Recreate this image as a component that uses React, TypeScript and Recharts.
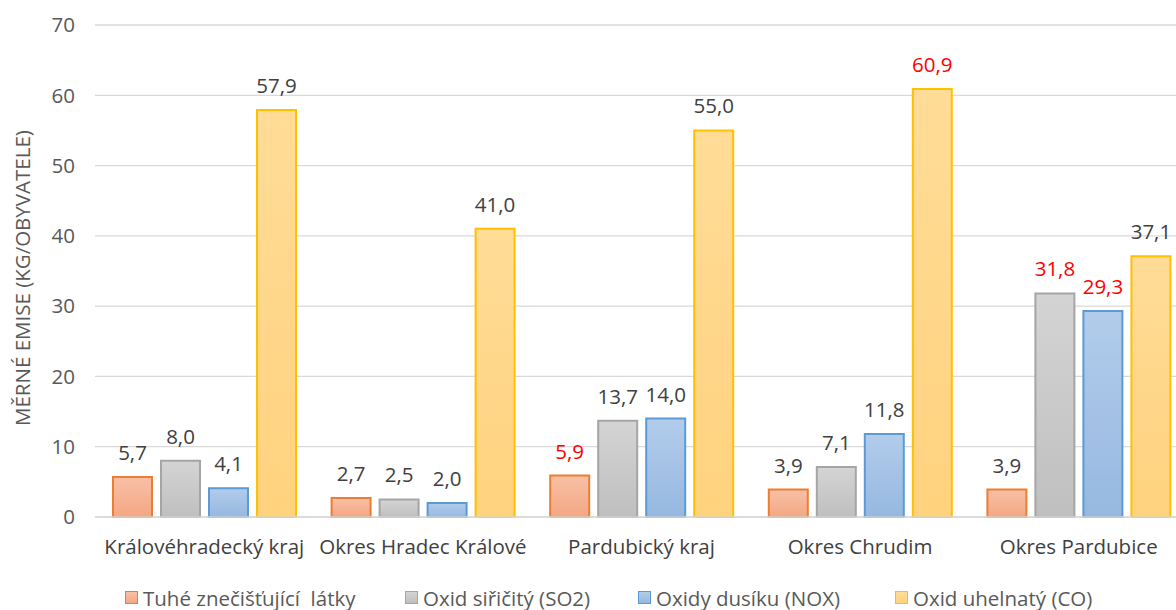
import React from 'react';
import {
  BarChart,
  Bar,
  XAxis,
  YAxis,
  CartesianGrid,
  Legend,
} from 'recharts';

const categories = [
  'Královéhradecký kraj',
  'Okres Hradec Králové',
  'Pardubický kraj',
  'Okres Chrudim',
  'Okres Pardubice',
];
const tuhe = [5.7, 2.7, 5.9, 3.9, 3.9];
const so2 = [8.0, 2.5, 13.7, 7.1, 31.8];
const nox = [4.1, 2.0, 14.0, 11.8, 29.3];
const co = [57.9, 41.0, 55.0, 60.9, 37.1];
const yTicks = [0, 10, 20, 30, 40, 50, 60, 70];

// values printed in red in the original: [series key, category]
const highlighted: Array<[string, string]> = [
  ['tuhe', 'Pardubický kraj'],
  ['co', 'Okres Chrudim'],
  ['so2', 'Okres Pardubice'],
  ['nox', 'Okres Pardubice'],
];

const data = categories.map((name, i) => ({
  name,
  tuhe: tuhe[i],
  so2: so2[i],
  nox: nox[i],
  co: co[i],
}));

const SERIES = [
  { key: 'tuhe', name: 'Tuhé znečišťující  látky', stroke: '#ED7D31', top: '#f8c0a6', bottom: '#f4a783', width: 280 },
  { key: 'so2', name: 'Oxid siřičitý (SO2)', stroke: '#A5A5A5', top: '#d4d4d4', bottom: '#bfbfbf', width: 233 },
  { key: 'nox', name: 'Oxidy dusíku (NOX)', stroke: '#5B9BD5', top: '#b2cceb', bottom: '#96b8e0', width: 257 },
  { key: 'co', name: 'Oxid uhelnatý (CO)', stroke: '#FFC000', top: '#ffdc97', bottom: '#ffd27e', width: 220 },
];

const FONT = '"Open Sans", "Noto Sans", sans-serif';
const FS = 20.5;
const TEXT = '#404040';
const AXIS_TEXT = '#595959';

const fmt = (v: number) => v.toFixed(1).replace('.', ',');

function makeLabel(seriesKey: string) {
  return (props: any) => {
    const { x, y, width, value, index } = props;
    const cat = categories[index];
    const red = highlighted.some(([k, c]) => k === seriesKey && c === cat);
    return (
      <text
        x={x + width / 2}
        y={y - 17}
        textAnchor="middle"
        fill={red ? '#FF0000' : TEXT}
        fontSize={FS}
        fontFamily={FONT}
      >
        {fmt(value)}
      </text>
    );
  };
}

function LegendContent() {
  return (
    <div
      style={{
        display: 'flex',
        paddingLeft: 125,
        fontFamily: FONT,
        fontSize: FS,
        color: AXIS_TEXT,
        height: 43,
        alignItems: 'center',
        position: 'relative',
        top: 9,
      }}
    >
      {SERIES.map((s) => (
        <div key={s.key} style={{ display: 'flex', alignItems: 'center', width: s.width, whiteSpace: 'nowrap' }}>
          <span
            style={{
              display: 'inline-block',
              width: 11,
              height: 11,
              border: `1.5px solid ${s.stroke}`,
              background: `linear-gradient(${s.top}, ${s.bottom})`,
              marginRight: 5,
            }}
          />
          <span style={{ whiteSpace: 'pre' }}>{s.name}</span>
        </div>
      ))}
    </div>
  );
}

export default function App() {
  return (
    <div
      style={{
        position: 'fixed',
        top: 0,
        left: 0,
        width: 1176,
        height: 610,
        overflow: 'hidden',
        background: '#fff',
      }}
    >
      <BarChart
        width={1190}
        height={610}
        data={data}
        margin={{ top: 25, right: 2, left: 0, bottom: 0 }}
        barSize={39}
        barGap={9}
      >
        <defs>
          {SERIES.map((s) => (
            <linearGradient key={s.key} id={`grad-${s.key}`} x1="0" y1="0" x2="0" y2="1">
              <stop offset="0%" stopColor={s.top} />
              <stop offset="100%" stopColor={s.bottom} />
            </linearGradient>
          ))}
        </defs>
        <CartesianGrid vertical={false} stroke="#d9d9d9" strokeWidth={1.3} />
        <XAxis
          dataKey="name"
          height={50}
          tickSize={0}
          tickMargin={22}
          axisLine={{ stroke: '#d9d9d9', strokeWidth: 1.3 }}
          tick={{ fill: TEXT, fontSize: FS, fontFamily: FONT }}
          interval={0}
        />
        <YAxis
          width={95}
          domain={[0, 70]}
          ticks={yTicks}
          tickSize={0}
          tickMargin={20}
          axisLine={false}
          tick={{ fill: AXIS_TEXT, fontSize: FS, fontFamily: FONT }}
          label={{
            value: 'MĚRNÉ EMISE (KG/OBYVATELE)',
            angle: -90,
            position: 'insideLeft',
            dx: 18,
            dy: 155,
            fill: AXIS_TEXT,
            fontSize: FS,
            fontFamily: FONT,
          }}
        />
        <Legend
          verticalAlign="bottom"
          content={<LegendContent />}
          wrapperStyle={{ left: 0, width: 1176, height: 43 }}
        />
        {SERIES.map((s) => (
          <Bar
            key={s.key}
            dataKey={s.key}
            name={s.name}
            fill={`url(#grad-${s.key})`}
            stroke={s.stroke}
            strokeWidth={2}
            isAnimationActive={false}
            label={makeLabel(s.key)}
          />
        ))}
      </BarChart>
    </div>
  );
}
